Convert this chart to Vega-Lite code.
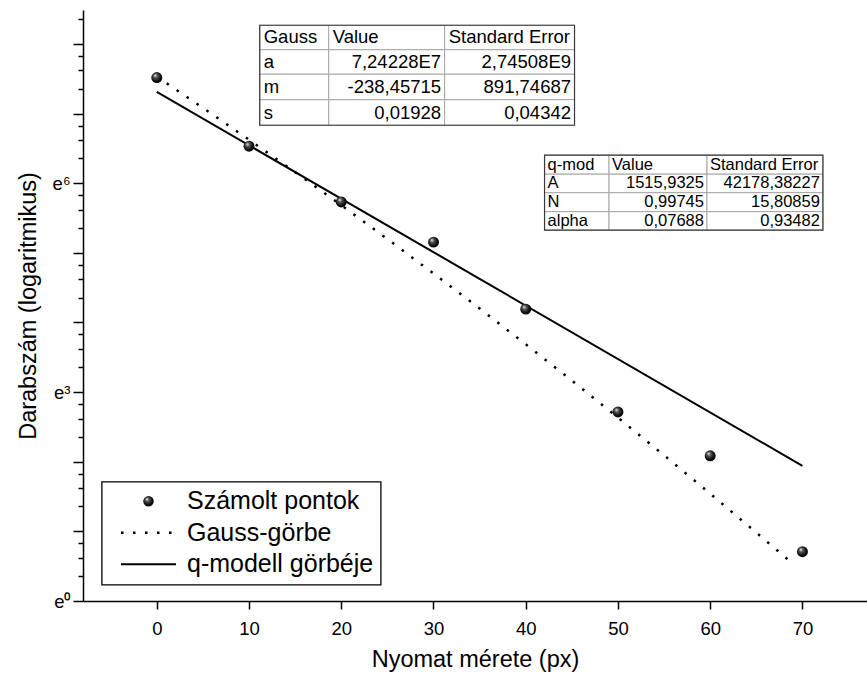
{
  "$schema": "https://vega.github.io/schema/vega-lite/v6.json",
  "width": 784,
  "height": 591,
  "autosize": {"type": "none"},
  "padding": {"left": 83, "top": 10, "right": 0, "bottom": 76},
  "background": "white",
  "config": {"font": "Liberation Sans", "view": {"stroke": null}, "axis": {"grid": false}},
  "datasets": {
    "pts": [
      {"x": 0, "count": 1839},
      {"x": 10, "count": 686},
      {"x": 20, "count": 308},
      {"x": 30, "count": 173},
      {"x": 40, "count": 66.1},
      {"x": 50, "count": 15.1},
      {"x": 60, "count": 8.05},
      {"x": 70, "count": 2.03}
    ],
    "gauss": [
      {"s": "Gauss-görbe", "x": 0, "count": 1863},
      {"s": "Gauss-görbe", "x": 5, "count": 1190},
      {"s": "Gauss-görbe", "x": 10, "count": 753},
      {"s": "Gauss-görbe", "x": 15, "count": 472.5},
      {"s": "Gauss-görbe", "x": 20, "count": 294},
      {"s": "Gauss-görbe", "x": 25, "count": 180.9},
      {"s": "Gauss-görbe", "x": 30, "count": 110.3},
      {"s": "Gauss-görbe", "x": 35, "count": 66.7},
      {"s": "Gauss-görbe", "x": 40, "count": 39.9},
      {"s": "Gauss-görbe", "x": 45, "count": 23.7},
      {"s": "Gauss-görbe", "x": 50, "count": 13.92},
      {"s": "Gauss-görbe", "x": 55, "count": 8.1},
      {"s": "Gauss-görbe", "x": 60, "count": 4.67},
      {"s": "Gauss-görbe", "x": 65, "count": 2.67},
      {"s": "Gauss-görbe", "x": 69, "count": 1.7}
    ],
    "qmod": [
      {"s": "q-modell görbéje", "x": 0, "count": 1495},
      {"s": "q-modell görbéje", "x": 35, "count": 102.1},
      {"s": "q-modell görbéje", "x": 70, "count": 6.97}
    ],
    "cells": [
      {"tbl": "G", "al": "l", "label": "Gauss", "x0": 11.16, "x1": 18.64, "y0": 3897, "y1": 2741, "yc": 3278},
      {"tbl": "G", "al": "l", "label": "Value", "x0": 18.64, "x1": 31.21, "y0": 3897, "y1": 2741, "yc": 3278},
      {"tbl": "G", "al": "l", "label": "Standard Error", "x0": 31.21, "x1": 45.29, "y0": 3897, "y1": 2741, "yc": 3278},
      {"tbl": "G", "al": "l", "label": "a", "x0": 11.16, "x1": 18.64, "y0": 2741, "y1": 1928, "yc": 2298},
      {"tbl": "G", "al": "r", "label": "7,24228E7", "x0": 18.64, "x1": 31.21, "y0": 2741, "y1": 1928, "yc": 2298},
      {"tbl": "G", "al": "r", "label": "2,74508E9", "x0": 31.21, "x1": 45.29, "y0": 2741, "y1": 1928, "yc": 2298},
      {"tbl": "G", "al": "l", "label": "m", "x0": 11.16, "x1": 18.64, "y0": 1928, "y1": 1337, "yc": 1605},
      {"tbl": "G", "al": "r", "label": "-238,45715", "x0": 18.64, "x1": 31.21, "y0": 1928, "y1": 1337, "yc": 1605},
      {"tbl": "G", "al": "r", "label": "891,74687", "x0": 31.21, "x1": 45.29, "y0": 1928, "y1": 1337, "yc": 1605},
      {"tbl": "G", "al": "l", "label": "s", "x0": 11.16, "x1": 18.64, "y0": 1337, "y1": 927, "yc": 1113},
      {"tbl": "G", "al": "r", "label": "0,01928", "x0": 18.64, "x1": 31.21, "y0": 1337, "y1": 927, "yc": 1113},
      {"tbl": "G", "al": "r", "label": "0,04342", "x0": 31.21, "x1": 45.29, "y0": 1337, "y1": 927, "yc": 1113},
      {"tbl": "Q", "al": "l", "label": "q-mod", "x0": 42.04, "x1": 49.03, "y0": 603, "y1": 459, "yc": 525.8},
      {"tbl": "Q", "al": "l", "label": "Value", "x0": 49.03, "x1": 59.65, "y0": 603, "y1": 459, "yc": 525.8},
      {"tbl": "Q", "al": "l", "label": "Standard Error", "x0": 59.65, "x1": 72.22, "y0": 603, "y1": 459, "yc": 525.8},
      {"tbl": "Q", "al": "l", "label": "A", "x0": 42.04, "x1": 49.03, "y0": 459, "y1": 351.8, "yc": 401.8},
      {"tbl": "Q", "al": "r", "label": "1515,9325", "x0": 49.03, "x1": 59.65, "y0": 459, "y1": 351.8, "yc": 401.8},
      {"tbl": "Q", "al": "r", "label": "42178,38227", "x0": 59.65, "x1": 72.22, "y0": 459, "y1": 351.8, "yc": 401.8},
      {"tbl": "Q", "al": "l", "label": "N", "x0": 42.04, "x1": 49.03, "y0": 351.8, "y1": 268, "yc": 307},
      {"tbl": "Q", "al": "r", "label": "0,99745", "x0": 49.03, "x1": 59.65, "y0": 351.8, "y1": 268, "yc": 307},
      {"tbl": "Q", "al": "r", "label": "15,80859", "x0": 59.65, "x1": 72.22, "y0": 351.8, "y1": 268, "yc": 307},
      {"tbl": "Q", "al": "l", "label": "alpha", "x0": 42.04, "x1": 49.03, "y0": 268, "y1": 205.4, "yc": 234.6},
      {"tbl": "Q", "al": "r", "label": "0,07688", "x0": 49.03, "x1": 59.65, "y0": 268, "y1": 205.4, "yc": 234.6},
      {"tbl": "Q", "al": "r", "label": "0,93482", "x0": 59.65, "x1": 72.22, "y0": 268, "y1": 205.4, "yc": 234.6}
    ],
    "tables": [
      {"tbl": "G", "x0": 11.16, "x1": 45.29, "y0": 3897, "y1": 927},
      {"tbl": "Q", "x0": 42.04, "x1": 72.22, "y0": 603, "y1": 205.4}
    ]
  },
  "layer": [
    {
      "data": {"name": "pts"},
      "mark": {"type": "point", "opacity": 0},
      "encoding": {
        "x": {
          "field": "x", "type": "quantitative",
          "scale": {"domain": [-8, 77], "nice": false, "zero": false},
          "axis": {
            "orient": "bottom",
            "values": [0, 10, 20, 30, 40, 50, 60, 70],
            "tickSize": 8, "tickWidth": 1.5, "tickColor": "black",
            "domainWidth": 1.5, "domainColor": "black",
            "labelFontSize": 18.5, "labelColor": "black", "labelPadding": 10,
            "title": "Nyomat mérete (px)", "titleFontSize": 23.5, "titleFontWeight": "normal",
            "titleColor": "black", "titlePadding": 10, "grid": false
          }
        },
        "y": {
          "field": "count", "type": "quantitative",
          "scale": {"type": "log", "base": 2.718281828459045, "domain": [1, 4850], "nice": false},
          "axis": {
            "orient": "left",
            "values": [1, 1.4296, 1.8591, 2.2887, 2.718281828, 3.886, 5.0537, 6.2214, 7.389056099, 10.5632, 13.7373, 16.9114, 20.08553692, 28.7137, 37.3419, 45.97, 54.59815003, 78.0519, 101.5056, 124.9593, 148.4131591, 212.167, 275.921, 339.675, 403.4287935, 576.729, 750.029, 923.329, 1096.633158, 1567.71, 2038.79, 2509.88, 2980.957987, 4261.49],
            "labelExpr": "abs(log(datum.value)) < 0.001 ? 'e⁰' : (abs(log(datum.value) - 3) < 0.001 ? 'e³' : (abs(log(datum.value) - 6) < 0.001 ? 'e⁶' : ''))",
            "tickSize": {"condition": {"test": "abs(log(datum.value) - round(log(datum.value))) < 0.001", "value": 10}, "value": 5},
            "tickWidth": 1.5, "tickColor": "black",
            "domainWidth": 1.5, "domainColor": "black",
            "labelFontSize": 18.5, "labelColor": "black", "labelPadding": 3,
            "labelFlush": false, "labelOverlap": false,
            "title": "Darabszám (logaritmikus)", "titleFontSize": 23.5, "titleFontWeight": "normal",
            "titleColor": "black", "titlePadding": 12, "grid": false
          }
        }
      }
    },
    {
      "data": {"name": "cells"},
      "mark": {"type": "rect", "fill": "white", "stroke": "#a6a6a6", "strokeWidth": 1},
      "encoding": {
        "x": {"field": "x0", "type": "quantitative", "scale": {"domain": [-8, 77], "nice": false, "zero": false}},
        "x2": {"field": "x1"},
        "y": {"field": "y0", "type": "quantitative", "scale": {"type": "log", "base": 2.718281828459045, "domain": [1, 4850], "nice": false}},
        "y2": {"field": "y1"}
      }
    },
    {
      "data": {"name": "tables"},
      "mark": {"type": "rect", "fillOpacity": 0, "stroke": "#3a3a3a", "strokeWidth": 1.2},
      "encoding": {
        "x": {"field": "x0", "type": "quantitative", "scale": {"domain": [-8, 77], "nice": false, "zero": false}},
        "x2": {"field": "x1"},
        "y": {"field": "y0", "type": "quantitative", "scale": {"type": "log", "base": 2.718281828459045, "domain": [1, 4850], "nice": false}},
        "y2": {"field": "y1"}
      }
    },
    {
      "data": {"name": "cells"},
      "transform": [{"filter": "datum.tbl === 'G' && datum.al === 'l'"}],
      "mark": {"type": "text", "align": "left", "baseline": "middle", "dx": 4, "fontSize": 18.5, "color": "black"},
      "encoding": {
        "x": {"field": "x0", "type": "quantitative", "scale": {"domain": [-8, 77], "nice": false, "zero": false}},
        "y": {"field": "yc", "type": "quantitative", "scale": {"type": "log", "base": 2.718281828459045, "domain": [1, 4850], "nice": false}},
        "text": {"field": "label"}
      }
    },
    {
      "data": {"name": "cells"},
      "transform": [{"filter": "datum.tbl === 'G' && datum.al === 'r'"}],
      "mark": {"type": "text", "align": "right", "baseline": "middle", "dx": -3.5, "fontSize": 18.5, "color": "black"},
      "encoding": {
        "x": {"field": "x1", "type": "quantitative", "scale": {"domain": [-8, 77], "nice": false, "zero": false}},
        "y": {"field": "yc", "type": "quantitative", "scale": {"type": "log", "base": 2.718281828459045, "domain": [1, 4850], "nice": false}},
        "text": {"field": "label"}
      }
    },
    {
      "data": {"name": "cells"},
      "transform": [{"filter": "datum.tbl === 'Q' && datum.al === 'l'"}],
      "mark": {"type": "text", "align": "left", "baseline": "middle", "dx": 3, "fontSize": 16.5, "color": "black"},
      "encoding": {
        "x": {"field": "x0", "type": "quantitative", "scale": {"domain": [-8, 77], "nice": false, "zero": false}},
        "y": {"field": "yc", "type": "quantitative", "scale": {"type": "log", "base": 2.718281828459045, "domain": [1, 4850], "nice": false}},
        "text": {"field": "label"}
      }
    },
    {
      "data": {"name": "cells"},
      "transform": [{"filter": "datum.tbl === 'Q' && datum.al === 'r'"}],
      "mark": {"type": "text", "align": "right", "baseline": "middle", "dx": -3, "fontSize": 16.5, "color": "black"},
      "encoding": {
        "x": {"field": "x1", "type": "quantitative", "scale": {"domain": [-8, 77], "nice": false, "zero": false}},
        "y": {"field": "yc", "type": "quantitative", "scale": {"type": "log", "base": 2.718281828459045, "domain": [1, 4850], "nice": false}},
        "text": {"field": "label"}
      }
    },
    {
      "data": {"name": "gauss"},
      "mark": {"type": "line", "strokeDash": [2.5, 9.5], "strokeWidth": 2.5, "strokeCap": "butt"},
      "encoding": {
        "x": {"field": "x", "type": "quantitative", "scale": {"domain": [-8, 77], "nice": false, "zero": false}},
        "y": {"field": "count", "type": "quantitative", "scale": {"type": "log", "base": 2.718281828459045, "domain": [1, 4850], "nice": false}},
        "color": {
          "field": "s", "type": "nominal",
          "scale": {"domain": ["Számolt pontok", "Gauss-görbe", "q-modell görbéje"], "range": ["black", "black", "black"]},
          "legend": {
            "orient": "none", "legendX": 18.7, "legendY": 471.7, "title": null,
            "strokeColor": "black", "fillColor": "white", "padding": 7,
            "symbolOffset": 27.3, "symbolSize": 3025, "labelFontSize": 25, "labelOffset": 26, "labelLimit": 400,
            "rowPadding": 5.5, "labelColor": "black", "labelFont": "Liberation Sans",
            "encode": {
              "legend": {"update": {"strokeWidth": {"value": 1.3}}},
              "symbols": {"update": {
                "shape": {"signal": "datum.value === 'Számolt pontok' ? 'circle' : 'stroke'"},
                "size": {"signal": "datum.value === 'Számolt pontok' ? 110 : 3025"},
                "stroke": {"value": "black"},
                "strokeWidth": {"signal": "datum.value === 'Számolt pontok' ? 0 : (datum.value === 'Gauss-görbe' ? 2.5 : 2)"},
                "strokeDash": {"signal": "datum.value === 'Gauss-görbe' ? [2.5, 9.5] : [1, 0]"},
                "fill": {"signal": "datum.value === 'Számolt pontok' ? {gradient: 'radial', x1: 0.35, y1: 0.3, r1: 0, x2: 0.45, y2: 0.45, r2: 0.6, stops: [{offset: 0, color: '#ffffff'}, {offset: 0.3, color: '#555555'}, {offset: 0.75, color: '#0a0a0a'}, {offset: 1, color: '#000000'}]} : 'transparent'"},
                "opacity": {"value": 1}
              }}
            }
          }
        }
      }
    },
    {
      "data": {"name": "qmod"},
      "mark": {"type": "line", "strokeWidth": 2},
      "encoding": {
        "x": {"field": "x", "type": "quantitative", "scale": {"domain": [-8, 77], "nice": false, "zero": false}},
        "y": {"field": "count", "type": "quantitative", "scale": {"type": "log", "base": 2.718281828459045, "domain": [1, 4850], "nice": false}},
        "color": {
          "field": "s", "type": "nominal",
          "scale": {"domain": ["Számolt pontok", "Gauss-görbe", "q-modell görbéje"], "range": ["black", "black", "black"]}
        }
      }
    },
    {
      "data": {"name": "pts"},
      "mark": {
        "type": "point", "filled": true, "size": 120, "strokeWidth": 0, "opacity": 1,
        "fill": {"gradient": "radial", "x1": 0.35, "y1": 0.3, "r1": 0, "x2": 0.45, "y2": 0.45, "r2": 0.6,
          "stops": [{"offset": 0, "color": "#ffffff"}, {"offset": 0.3, "color": "#555555"}, {"offset": 0.75, "color": "#0a0a0a"}, {"offset": 1, "color": "#000000"}]}
      },
      "encoding": {
        "x": {"field": "x", "type": "quantitative", "scale": {"domain": [-8, 77], "nice": false, "zero": false}},
        "y": {"field": "count", "type": "quantitative", "scale": {"type": "log", "base": 2.718281828459045, "domain": [1, 4850], "nice": false}}
      }
    }
  ]
}
